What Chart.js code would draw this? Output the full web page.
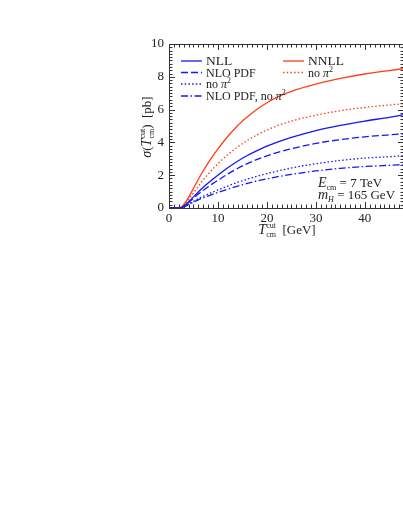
<!DOCTYPE html>
<html>
<head>
<meta charset="utf-8">
<script src="https://cdn.jsdelivr.net/npm/chart.js@4.4.1/dist/chart.umd.min.js"></script>
<style>
html, body { margin: 0; padding: 0; background: #fff; overflow: hidden; }
#wrap { position: relative; width: 410px; height: 521px; }
</style>
</head>
<body>
<div id="wrap"><canvas id="grafico" width="410" height="521"></canvas></div>
<script>
// T_cm^cut [GeV]
const tau = [0, 1, 2, 2.5, 3, 4, 5, 6, 7, 8, 9, 10, 12, 14, 16, 18, 20, 22, 25, 30, 35, 40, 45, 48];

// sigma [pb]
const nnll        = [0, 0, 0.01, 0.05, 0.2, 0.65, 1.2, 1.75, 2.27, 2.75, 3.19, 3.6, 4.36, 5.02, 5.55, 6.02, 6.42, 6.75, 7.11, 7.55, 7.9, 8.17, 8.38, 8.5];
const nnllNoPi    = [0, 0, 0.01, 0.04, 0.15, 0.5, 0.92, 1.33, 1.72, 2.07, 2.4, 2.7, 3.25, 3.72, 4.12, 4.46, 4.75, 5.0, 5.3, 5.66, 5.93, 6.13, 6.28, 6.36];
const nll         = [0, 0, 0.01, 0.03, 0.1, 0.37, 0.68, 0.98, 1.26, 1.52, 1.77, 2.0, 2.45, 2.85, 3.2, 3.5, 3.77, 4.0, 4.3, 4.72, 5.04, 5.3, 5.53, 5.69];
const nloPdf      = [0, 0, 0.01, 0.03, 0.09, 0.33, 0.6, 0.85, 1.08, 1.3, 1.5, 1.69, 2.07, 2.41, 2.71, 2.96, 3.18, 3.37, 3.61, 3.94, 4.17, 4.34, 4.46, 4.52];
const nllNoPi     = [0, 0, 0.01, 0.02, 0.07, 0.24, 0.41, 0.57, 0.72, 0.85, 0.98, 1.1, 1.34, 1.56, 1.76, 1.94, 2.1, 2.24, 2.44, 2.7, 2.9, 3.04, 3.13, 3.18];
const nloPdfNoPi  = [0, 0, 0.01, 0.02, 0.06, 0.21, 0.36, 0.5, 0.62, 0.74, 0.85, 0.95, 1.15, 1.33, 1.5, 1.65, 1.78, 1.9, 2.05, 2.26, 2.42, 2.53, 2.6, 2.64];

const xTicks = [0, 10, 20, 30, 40];
const yTicks = [0, 2, 4, 6, 8, 10];

const AZUL = "#1418f2";
const VERMELHO = "#ff3d16";
const FONTE = '"Liberation Serif", "DejaVu Serif", serif';

const TRACOS = {
  solido: [],
  tracejado: [7, 3],
  pontilhado: [1.5, 2.2],
  tracoPonto: [7, 2.5, 1.5, 2.5]
};

function serie(label, valores, cor, traco) {
  return {
    label: label,
    data: tau.map((t, i) => ({ x: t, y: valores[i] })),
    borderColor: cor,
    borderWidth: 1.3,
    borderDash: TRACOS[traco],
    pointRadius: 0,
    cubicInterpolationMode: "monotone",
    fill: false
  };
}

function fonte(p) {
  return (p.it ? "italic " : "") + p.s + "px " + FONTE;
}

// texto com sub/sobrescritos
function escreveRico(ctx, partes, x, y, alinhar) {
  let w = 0, inicio = 0;
  partes.forEach(p => {
    ctx.font = fonte(p);
    const pw = ctx.measureText(p.t).width;
    if (p.junto) {
      p.x = inicio;
      w = Math.max(w, inicio + pw);
    } else {
      p.x = w;
      inicio = w;
      w += pw;
    }
  });
  const x0 = alinhar === "centro" ? x - w / 2 : x;
  ctx.textAlign = "left";
  ctx.textBaseline = "alphabetic";
  partes.forEach(p => {
    ctx.font = fonte(p);
    ctx.fillText(p.t, x0 + p.x, y + (p.dy || 0));
  });
}

function tCut() {
  return [
    { t: "T", s: 14, it: true },
    { t: "cut", s: 8, dy: -6 },
    { t: "cm", s: 8, dy: 3, junto: true }
  ];
}

const molduraPlugin = {
  id: "moldura",
  afterDatasetsDraw(chart) {
    const { ctx, chartArea: a, scales: { x, y } } = chart;
    ctx.save();
    ctx.strokeStyle = "#333";
    ctx.lineWidth = 1;
    ctx.setLineDash([]);
    ctx.beginPath();
    for (let v = 0; v <= 48; v++) {
      const px = Math.round(x.getPixelForValue(v)) + 0.5;
      const len = v % 10 === 0 ? 6 : 3.5;
      ctx.moveTo(px, a.bottom); ctx.lineTo(px, a.bottom - len);
      ctx.moveTo(px, a.top); ctx.lineTo(px, a.top + len);
    }
    for (let i = 0; i <= 50; i++) {
      const py = Math.round(y.getPixelForValue(i * 0.2)) + 0.5;
      const len = i % 10 === 0 ? 6 : 3.5;
      ctx.moveTo(a.left, py); ctx.lineTo(a.left + len, py);
      ctx.moveTo(a.right, py); ctx.lineTo(a.right - len, py);
    }
    ctx.stroke();
    ctx.strokeRect(Math.round(a.left) + 0.5, Math.round(a.top) + 0.5,
      Math.round(a.right - a.left), Math.round(a.bottom - a.top));
    ctx.restore();
  }
};

const textosPlugin = {
  id: "textos",
  afterDraw(chart) {
    const ctx = chart.ctx;
    ctx.save();
    ctx.fillStyle = "#222";

    // legenda
    const pi2 = [{ t: "π", s: 12, it: true }, { t: "2", s: 8, dy: -5 }];
    const itens = [
      { cor: AZUL, traco: "solido", x: 181, y: 61, partes: [{ t: "NLL", s: 13.5 }] },
      { cor: AZUL, traco: "tracejado", x: 181, y: 72.5, partes: [{ t: "NLO PDF", s: 12 }] },
      { cor: AZUL, traco: "pontilhado", x: 181, y: 84, partes: [{ t: "no ", s: 12 }].concat(pi2) },
      { cor: AZUL, traco: "tracoPonto", x: 181, y: 96, partes: [{ t: "NLO PDF, no ", s: 12 }].concat(pi2) },
      { cor: VERMELHO, traco: "solido", x: 283, y: 61, partes: [{ t: "NNLL", s: 13.5 }] },
      { cor: VERMELHO, traco: "pontilhado", x: 283, y: 72.5, partes: [{ t: "no ", s: 12 }].concat(pi2) }
    ];
    itens.forEach(it => {
      ctx.strokeStyle = it.cor;
      ctx.lineWidth = 1.3;
      ctx.setLineDash(TRACOS[it.traco]);
      ctx.beginPath();
      ctx.moveTo(it.x, it.y);
      ctx.lineTo(it.x + 21, it.y);
      ctx.stroke();
      ctx.setLineDash([]);
      escreveRico(ctx, it.partes, it.x + 25, it.y + 4, "esquerda");
    });

    // anotacoes
    escreveRico(ctx, [
      { t: "E", s: 14, it: true }, { t: "cm", s: 8, dy: 3 }, { t: " = 7 TeV", s: 13 }
    ], 318, 187, "esquerda");
    escreveRico(ctx, [
      { t: "m", s: 14, it: true }, { t: "H", s: 8, it: true, dy: 3 }, { t: " = 165 GeV", s: 13 }
    ], 318, 199, "esquerda");

    // titulo eixo x
    escreveRico(ctx, tCut().concat([{ t: "  [GeV]", s: 13 }]), 287, 234, "centro");

    // titulo eixo y
    ctx.translate(151, 127);
    ctx.rotate(-Math.PI / 2);
    escreveRico(ctx, [{ t: "σ", s: 14, it: true }, { t: "(", s: 13 }]
      .concat(tCut())
      .concat([{ t: ")  [pb]", s: 13 }]), 0, 0, "centro");
    ctx.restore();
  }
};

new Chart(document.getElementById("grafico"), {
  type: "line",
  data: {
    datasets: [
      serie("NLL", nll, AZUL, "solido"),
      serie("NLO PDF", nloPdf, AZUL, "tracejado"),
      serie("no π²", nllNoPi, AZUL, "pontilhado"),
      serie("NLO PDF, no π²", nloPdfNoPi, AZUL, "tracoPonto"),
      serie("NNLL", nnll, VERMELHO, "solido"),
      serie("no π² (NNLL)", nnllNoPi, VERMELHO, "pontilhado")
    ]
  },
  options: {
    responsive: false,
    animation: false,
    devicePixelRatio: 1,
    layout: { padding: { top: 44, right: 6, left: 0, bottom: 0 } },
    plugins: {
      legend: { display: false },
      tooltip: { enabled: false }
    },
    scales: {
      x: {
        type: "linear",
        min: 0,
        max: 48,
        grid: { display: false, drawTicks: false },
        border: { display: false },
        afterBuildTicks: s => { s.ticks = xTicks.map(v => ({ value: v })); },
        ticks: {
          padding: 3,
          maxRotation: 0,
          color: "#222",
          font: { family: FONTE, size: 13 }
        },
        afterFit: s => { s.height = 313; }
      },
      y: {
        min: 0,
        max: 10,
        grid: { display: false, drawTicks: false },
        border: { display: false },
        afterBuildTicks: s => { s.ticks = yTicks.map(v => ({ value: v })); },
        ticks: {
          padding: 5,
          color: "#222",
          font: { family: FONTE, size: 13 }
        },
        afterFit: s => { s.width = 169; }
      }
    }
  },
  plugins: [molduraPlugin, textosPlugin]
});
</script>
</body>
</html>
